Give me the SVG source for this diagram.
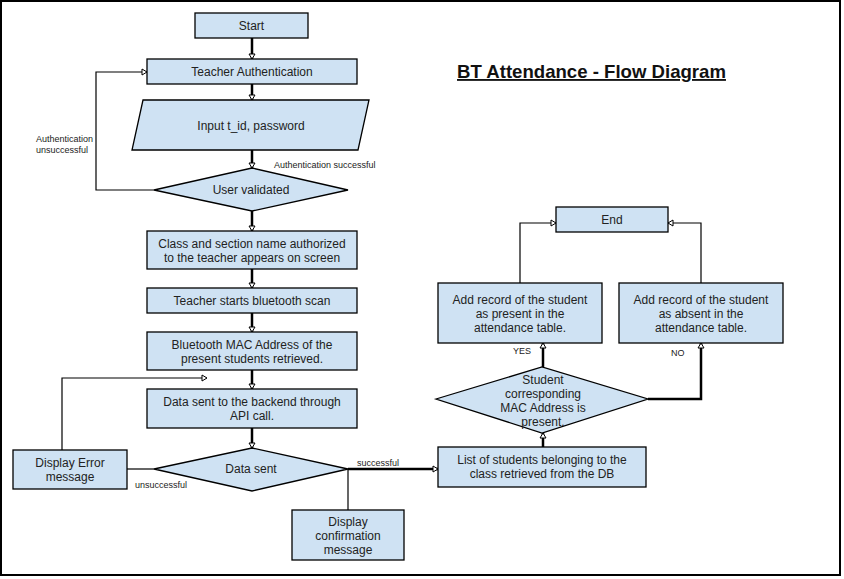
<svg xmlns="http://www.w3.org/2000/svg" width="844" height="579" viewBox="0 0 844 579">
<style>
.n{fill:#cfe2f3;stroke:#000;stroke-width:1.3}
.t{font-family:"Liberation Sans",Arial,sans-serif;font-size:12px;fill:#222;text-anchor:middle}
.s{font-family:"Liberation Sans",Arial,sans-serif;font-size:9px;fill:#222}
.thick{fill:none;stroke:#000;stroke-width:2.5;marker-end:url(#ah)}
.thin{fill:none;stroke:#000;stroke-width:1.2}
.thina{fill:none;stroke:#000;stroke-width:1.2;marker-end:url(#ah)}
</style>
<defs>
<marker id="ah" markerUnits="userSpaceOnUse" markerWidth="9" markerHeight="9" refX="6" refY="4" orient="auto">
<path d="M1,1 L6,4 L1,7 Z" fill="#fff" stroke="#000" stroke-width="1"/>
</marker>
</defs>
<rect x="0" y="0" width="844" height="579" fill="#fff"/>
<rect x="1" y="1" width="839" height="574" fill="none" stroke="#000" stroke-width="2"/>
<g id="title"><text x="591.5" y="78" font-family="Liberation Sans,Arial,sans-serif" font-size="18.6" font-weight="bold" text-anchor="middle" text-decoration="underline" fill="#111">BT Attendance - Flow Diagram</text></g>

<g id="connectors">
<path class="thick" d="M252,38 V59"/>
<path class="thick" d="M252,84 V100"/>
<path class="thick" d="M252,150 V168"/>
<path class="thina" d="M154,190 H96 V72 H147"/>
<path class="thick" d="M252,211 V231"/>
<path class="thick" d="M252,269 V288"/>
<path class="thick" d="M252,313 V332"/>
<path class="thick" d="M252,370 V389"/>
<path class="thick" d="M252,428 V448"/>
<path class="thin" d="M127,469 H154"/>
<path class="thina" d="M62,450 V378 H207"/>
<path class="thick" d="M348,469 H438"/>
<path class="thin" d="M348,469 V510"/>
<path class="thick" d="M543,447 V433"/>
<path class="thick" d="M543,367 V343"/>
<path class="thick" d="M648,399 H701 V343"/>
<path class="thina" d="M520,283 V223 H556"/>
<path class="thina" d="M701,283 V223 H668"/>
</g>

<g id="labels">
<text class="s" x="274" y="168">Authentication successful</text>
<text class="s" x="36" y="142">Authentication</text>
<text class="s" x="36" y="153">unsuccessful</text>
<text class="s" x="135" y="488">unsuccessful</text>
<text class="s" x="357" y="466">successful</text>
<text class="s" x="513" y="354">YES</text>
<text class="s" x="671" y="356">NO</text>
</g>

<g id="start"><rect class="n" x="195" y="13" width="113" height="25"/><text class="t" x="251.5" y="30">Start</text></g>
<g id="teacher-auth"><rect class="n" x="147" y="59" width="210" height="25"/><text class="t" x="252" y="76">Teacher Authentication</text></g>
<g id="input"><polygon class="n" points="143,100 369,100 358,150 132,150"/><text class="t" x="251" y="130">Input t_id, password</text></g>
<g id="user-validated"><polygon class="n" points="154,190 252,168 348,190 252,211"/><text class="t" x="251" y="194">User validated</text></g>
<g id="class-section"><rect class="n" x="147" y="231" width="210" height="38"/><text class="t" x="252" y="248">Class and section name authorized</text><text class="t" x="252" y="262">to the teacher appears on screen</text></g>
<g id="bt-scan"><rect class="n" x="147" y="288" width="210" height="25"/><text class="t" x="252" y="305">Teacher starts bluetooth scan</text></g>
<g id="mac-retrieved"><rect class="n" x="147" y="332" width="210" height="38"/><text class="t" x="252" y="349">Bluetooth MAC Address of the</text><text class="t" x="252" y="363">present students retrieved.</text></g>
<g id="data-backend"><rect class="n" x="147" y="389" width="210" height="39"/><text class="t" x="252" y="406">Data sent to the backend through</text><text class="t" x="252" y="420">API call.</text></g>
<g id="data-sent"><polygon class="n" points="154,469 252,448 348,469 252,491"/><text class="t" x="251" y="473">Data sent</text></g>
<g id="display-error"><rect class="n" x="13" y="450" width="114" height="39"/><text class="t" x="70" y="467">Display Error</text><text class="t" x="70" y="481">message</text></g>
<g id="display-confirm"><rect class="n" x="292" y="510" width="112" height="50"/><text class="t" x="348" y="526">Display</text><text class="t" x="348" y="540">confirmation</text><text class="t" x="348" y="554">message</text></g>
<g id="list-students"><rect class="n" x="438" y="447" width="208" height="40"/><text class="t" x="542" y="464">List of students belonging to the</text><text class="t" x="542" y="478">class retrieved from the DB</text></g>
<g id="mac-present"><polygon class="n" points="436,399 542,367 648,399 542,433"/><text class="t" x="543" y="384">Student</text><text class="t" x="543" y="398">corresponding</text><text class="t" x="543" y="412">MAC Address is</text><text class="t" x="543" y="426">present.</text></g>
<g id="present-record"><rect class="n" x="438" y="283" width="164" height="60"/><text class="t" x="520" y="304">Add record of the student</text><text class="t" x="520" y="318">as present in the</text><text class="t" x="520" y="332">attendance table.</text></g>
<g id="absent-record"><rect class="n" x="619" y="283" width="164" height="60"/><text class="t" x="701" y="304">Add record of the student</text><text class="t" x="701" y="318">as absent in the</text><text class="t" x="701" y="332">attendance table.</text></g>
<g id="end"><rect class="n" x="556" y="207" width="112" height="25"/><text class="t" x="612" y="224">End</text></g>
</svg>
